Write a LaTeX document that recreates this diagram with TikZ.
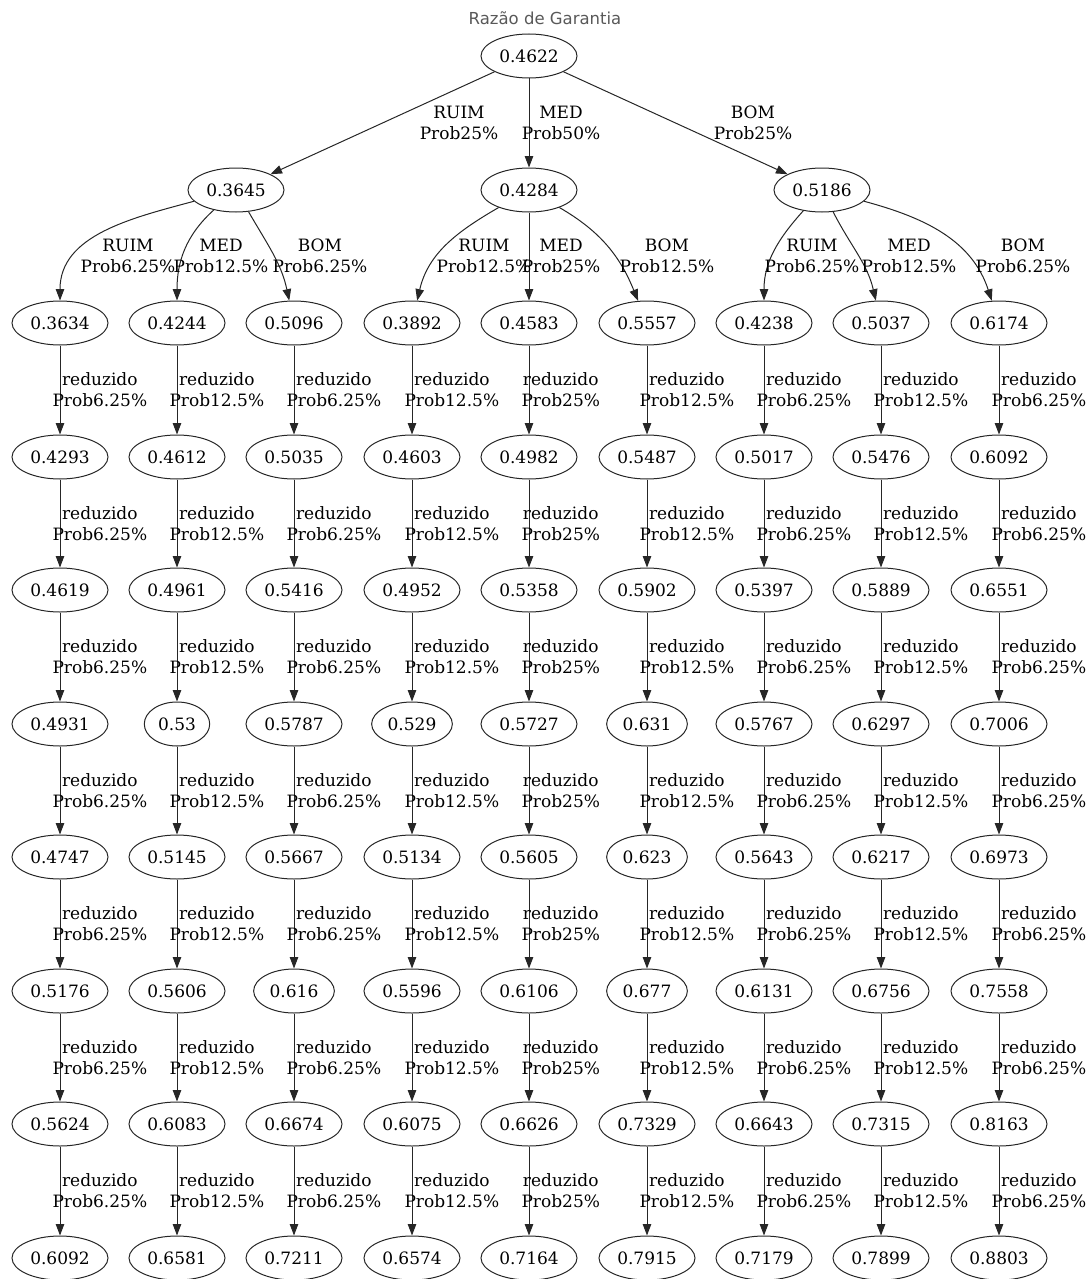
\documentclass[tikz,border=0pt]{standalone}
\usepackage{fontspec}
\setmainfont{DejaVu Serif}
\newfontfamily\titlefont{DejaVu Sans}
\usetikzlibrary{arrows.meta,shapes.geometric}

\begin{document}
\begin{tikzpicture}[x=1pt, y=1pt,
		val/.style={ellipse, draw=black!85, line width=1pt, inner xsep=4.2pt, inner ysep=1pt, minimum height=44pt, font=\fontsize{17}{21}\selectfont},
		link/.style={-{Triangle[length=11.5pt, width=8.5pt]}, draw=black!85, line width=1pt},
		lbl/.style={align=center, inner sep=0pt, font=\fontsize{17}{21}\selectfont},
		chainlbl/.style={lbl, anchor=west, xshift=-8pt}]
		\useasboundingbox (0,0) rectangle (1086,-1279);

		\node[font=\titlefont\fontsize{16.5}{20}\selectfont, text=black!65, anchor=base](title) at (545,-25){Razão de Garantia};

		% root and first split
		\node[val](root) at (529,-56){0.4622};
		\node[val](ruim) at (236,-190){0.3645};
		\node[val](med) at (529,-190){0.4284};
		\node[val](bom) at (822,-190){0.5186};

		% second split
		\node[val](rrOne) at (60,-323){0.3634};
		\node[val](rmOne) at (177,-323){0.4244};
		\node[val](rbOne) at (294,-323){0.5096};
		\node[val](mrOne) at (412,-323){0.3892};
		\node[val](mmOne) at (529,-323){0.4583};
		\node[val](mbOne) at (647,-323){0.5557};
		\node[val](brOne) at (764,-323){0.4238};
		\node[val](bmOne) at (881,-323){0.5037};
		\node[val](bbOne) at (999,-323){0.6174};

		% column ruim-ruim
		\node[val](rrTwo) at (60,-457){0.4293};
		\node[val](rrThree) at (60,-590){0.4619};
		\node[val](rrFour) at (60,-724){0.4931};
		\node[val](rrFive) at (60,-857){0.4747};
		\node[val](rrSix) at (60,-991){0.5176};
		\node[val](rrSeven) at (60,-1124){0.5624};
		\node[val](rrEight) at (60,-1258){0.6092};

		% column ruim-med
		\node[val](rmTwo) at (177,-457){0.4612};
		\node[val](rmThree) at (177,-590){0.4961};
		\node[val](rmFour) at (177,-724){0.53};
		\node[val](rmFive) at (177,-857){0.5145};
		\node[val](rmSix) at (177,-991){0.5606};
		\node[val](rmSeven) at (177,-1124){0.6083};
		\node[val](rmEight) at (177,-1258){0.6581};

		% column ruim-bom
		\node[val](rbTwo) at (294,-457){0.5035};
		\node[val](rbThree) at (294,-590){0.5416};
		\node[val](rbFour) at (294,-724){0.5787};
		\node[val](rbFive) at (294,-857){0.5667};
		\node[val](rbSix) at (294,-991){0.616};
		\node[val](rbSeven) at (294,-1124){0.6674};
		\node[val](rbEight) at (294,-1258){0.7211};

		% column med-ruim
		\node[val](mrTwo) at (412,-457){0.4603};
		\node[val](mrThree) at (412,-590){0.4952};
		\node[val](mrFour) at (412,-724){0.529};
		\node[val](mrFive) at (412,-857){0.5134};
		\node[val](mrSix) at (412,-991){0.5596};
		\node[val](mrSeven) at (412,-1124){0.6075};
		\node[val](mrEight) at (412,-1258){0.6574};

		% column med-med
		\node[val](mmTwo) at (529,-457){0.4982};
		\node[val](mmThree) at (529,-590){0.5358};
		\node[val](mmFour) at (529,-724){0.5727};
		\node[val](mmFive) at (529,-857){0.5605};
		\node[val](mmSix) at (529,-991){0.6106};
		\node[val](mmSeven) at (529,-1124){0.6626};
		\node[val](mmEight) at (529,-1258){0.7164};

		% column med-bom
		\node[val](mbTwo) at (647,-457){0.5487};
		\node[val](mbThree) at (647,-590){0.5902};
		\node[val](mbFour) at (647,-724){0.631};
		\node[val](mbFive) at (647,-857){0.623};
		\node[val](mbSix) at (647,-991){0.677};
		\node[val](mbSeven) at (647,-1124){0.7329};
		\node[val](mbEight) at (647,-1258){0.7915};

		% column bom-ruim
		\node[val](brTwo) at (764,-457){0.5017};
		\node[val](brThree) at (764,-590){0.5397};
		\node[val](brFour) at (764,-724){0.5767};
		\node[val](brFive) at (764,-857){0.5643};
		\node[val](brSix) at (764,-991){0.6131};
		\node[val](brSeven) at (764,-1124){0.6643};
		\node[val](brEight) at (764,-1258){0.7179};

		% column bom-med
		\node[val](bmTwo) at (881,-457){0.5476};
		\node[val](bmThree) at (881,-590){0.5889};
		\node[val](bmFour) at (881,-724){0.6297};
		\node[val](bmFive) at (881,-857){0.6217};
		\node[val](bmSix) at (881,-991){0.6756};
		\node[val](bmSeven) at (881,-1124){0.7315};
		\node[val](bmEight) at (881,-1258){0.7899};

		% column bom-bom
		\node[val](bbTwo) at (999,-457){0.6092};
		\node[val](bbThree) at (999,-590){0.6551};
		\node[val](bbFour) at (999,-724){0.7006};
		\node[val](bbFive) at (999,-857){0.6973};
		\node[val](bbSix) at (999,-991){0.7558};
		\node[val](bbSeven) at (999,-1124){0.8163};
		\node[val](bbEight) at (999,-1258){0.8803};

		% draw first split edges
		\draw[link] (root) -- (ruim);
		\draw[link] (root) -- (med);
		\draw[link] (root) -- (bom);
		\node[lbl](ruimLbl) at (459,-123){RUIM\\Prob25\%};
		\node[lbl](medLbl) at (561,-123){MED\\Prob50\%};
		\node[lbl](bomLbl) at (753,-123){BOM\\Prob25\%};

		% draw second split edges
		\draw[link] (ruim) to[out=195, in=90] (rrOne);
		\draw[link] (ruim) to[out=222, in=90] (rmOne);
		\draw[link] (ruim) to[out=-60, in=102] (rbOne);
		\draw[link] (med) to[out=210, in=77] (mrOne);
		\draw[link] (med) -- (mmOne);
		\draw[link] (med) to[out=-30, in=112] (mbOne);
		\draw[link] (bom) to[out=228, in=90] (brOne);
		\draw[link] (bom) to[out=-63, in=103] (bmOne);
		\draw[link] (bom) to[out=-15, in=108] (bbOne);
		\node[lbl](rrLbl) at (128,-256){RUIM\\Prob6.25\%};
		\node[lbl](rmLbl) at (221,-256){MED\\Prob12.5\%};
		\node[lbl](rbLbl) at (320,-256){BOM\\Prob6.25\%};
		\node[lbl](mrLbl) at (484,-256){RUIM\\Prob12.5\%};
		\node[lbl](mmLbl) at (561,-256){MED\\Prob25\%};
		\node[lbl](mbLbl) at (667,-256){BOM\\Prob12.5\%};
		\node[lbl](brLbl) at (812,-256){RUIM\\Prob6.25\%};
		\node[lbl](bmLbl) at (909,-256){MED\\Prob12.5\%};
		\node[lbl](bbLbl) at (1023,-256){BOM\\Prob6.25\%};

		% draw reduzido edges
		\draw[link] (rrOne) -- node[chainlbl]{reduzido\\Prob6.25\%}(rrTwo);
		\draw[link] (rrTwo) -- node[chainlbl]{reduzido\\Prob6.25\%}(rrThree);
		\draw[link] (rrThree) -- node[chainlbl]{reduzido\\Prob6.25\%}(rrFour);
		\draw[link] (rrFour) -- node[chainlbl]{reduzido\\Prob6.25\%}(rrFive);
		\draw[link] (rrFive) -- node[chainlbl]{reduzido\\Prob6.25\%}(rrSix);
		\draw[link] (rrSix) -- node[chainlbl]{reduzido\\Prob6.25\%}(rrSeven);
		\draw[link] (rrSeven) -- node[chainlbl]{reduzido\\Prob6.25\%}(rrEight);

		\draw[link] (rmOne) -- node[chainlbl]{reduzido\\Prob12.5\%}(rmTwo);
		\draw[link] (rmTwo) -- node[chainlbl]{reduzido\\Prob12.5\%}(rmThree);
		\draw[link] (rmThree) -- node[chainlbl]{reduzido\\Prob12.5\%}(rmFour);
		\draw[link] (rmFour) -- node[chainlbl]{reduzido\\Prob12.5\%}(rmFive);
		\draw[link] (rmFive) -- node[chainlbl]{reduzido\\Prob12.5\%}(rmSix);
		\draw[link] (rmSix) -- node[chainlbl]{reduzido\\Prob12.5\%}(rmSeven);
		\draw[link] (rmSeven) -- node[chainlbl]{reduzido\\Prob12.5\%}(rmEight);

		\draw[link] (rbOne) -- node[chainlbl]{reduzido\\Prob6.25\%}(rbTwo);
		\draw[link] (rbTwo) -- node[chainlbl]{reduzido\\Prob6.25\%}(rbThree);
		\draw[link] (rbThree) -- node[chainlbl]{reduzido\\Prob6.25\%}(rbFour);
		\draw[link] (rbFour) -- node[chainlbl]{reduzido\\Prob6.25\%}(rbFive);
		\draw[link] (rbFive) -- node[chainlbl]{reduzido\\Prob6.25\%}(rbSix);
		\draw[link] (rbSix) -- node[chainlbl]{reduzido\\Prob6.25\%}(rbSeven);
		\draw[link] (rbSeven) -- node[chainlbl]{reduzido\\Prob6.25\%}(rbEight);

		\draw[link] (mrOne) -- node[chainlbl]{reduzido\\Prob12.5\%}(mrTwo);
		\draw[link] (mrTwo) -- node[chainlbl]{reduzido\\Prob12.5\%}(mrThree);
		\draw[link] (mrThree) -- node[chainlbl]{reduzido\\Prob12.5\%}(mrFour);
		\draw[link] (mrFour) -- node[chainlbl]{reduzido\\Prob12.5\%}(mrFive);
		\draw[link] (mrFive) -- node[chainlbl]{reduzido\\Prob12.5\%}(mrSix);
		\draw[link] (mrSix) -- node[chainlbl]{reduzido\\Prob12.5\%}(mrSeven);
		\draw[link] (mrSeven) -- node[chainlbl]{reduzido\\Prob12.5\%}(mrEight);

		\draw[link] (mmOne) -- node[chainlbl]{reduzido\\Prob25\%}(mmTwo);
		\draw[link] (mmTwo) -- node[chainlbl]{reduzido\\Prob25\%}(mmThree);
		\draw[link] (mmThree) -- node[chainlbl]{reduzido\\Prob25\%}(mmFour);
		\draw[link] (mmFour) -- node[chainlbl]{reduzido\\Prob25\%}(mmFive);
		\draw[link] (mmFive) -- node[chainlbl]{reduzido\\Prob25\%}(mmSix);
		\draw[link] (mmSix) -- node[chainlbl]{reduzido\\Prob25\%}(mmSeven);
		\draw[link] (mmSeven) -- node[chainlbl]{reduzido\\Prob25\%}(mmEight);

		\draw[link] (mbOne) -- node[chainlbl]{reduzido\\Prob12.5\%}(mbTwo);
		\draw[link] (mbTwo) -- node[chainlbl]{reduzido\\Prob12.5\%}(mbThree);
		\draw[link] (mbThree) -- node[chainlbl]{reduzido\\Prob12.5\%}(mbFour);
		\draw[link] (mbFour) -- node[chainlbl]{reduzido\\Prob12.5\%}(mbFive);
		\draw[link] (mbFive) -- node[chainlbl]{reduzido\\Prob12.5\%}(mbSix);
		\draw[link] (mbSix) -- node[chainlbl]{reduzido\\Prob12.5\%}(mbSeven);
		\draw[link] (mbSeven) -- node[chainlbl]{reduzido\\Prob12.5\%}(mbEight);

		\draw[link] (brOne) -- node[chainlbl]{reduzido\\Prob6.25\%}(brTwo);
		\draw[link] (brTwo) -- node[chainlbl]{reduzido\\Prob6.25\%}(brThree);
		\draw[link] (brThree) -- node[chainlbl]{reduzido\\Prob6.25\%}(brFour);
		\draw[link] (brFour) -- node[chainlbl]{reduzido\\Prob6.25\%}(brFive);
		\draw[link] (brFive) -- node[chainlbl]{reduzido\\Prob6.25\%}(brSix);
		\draw[link] (brSix) -- node[chainlbl]{reduzido\\Prob6.25\%}(brSeven);
		\draw[link] (brSeven) -- node[chainlbl]{reduzido\\Prob6.25\%}(brEight);

		\draw[link] (bmOne) -- node[chainlbl]{reduzido\\Prob12.5\%}(bmTwo);
		\draw[link] (bmTwo) -- node[chainlbl]{reduzido\\Prob12.5\%}(bmThree);
		\draw[link] (bmThree) -- node[chainlbl]{reduzido\\Prob12.5\%}(bmFour);
		\draw[link] (bmFour) -- node[chainlbl]{reduzido\\Prob12.5\%}(bmFive);
		\draw[link] (bmFive) -- node[chainlbl]{reduzido\\Prob12.5\%}(bmSix);
		\draw[link] (bmSix) -- node[chainlbl]{reduzido\\Prob12.5\%}(bmSeven);
		\draw[link] (bmSeven) -- node[chainlbl]{reduzido\\Prob12.5\%}(bmEight);

		\draw[link] (bbOne) -- node[chainlbl]{reduzido\\Prob6.25\%}(bbTwo);
		\draw[link] (bbTwo) -- node[chainlbl]{reduzido\\Prob6.25\%}(bbThree);
		\draw[link] (bbThree) -- node[chainlbl]{reduzido\\Prob6.25\%}(bbFour);
		\draw[link] (bbFour) -- node[chainlbl]{reduzido\\Prob6.25\%}(bbFive);
		\draw[link] (bbFive) -- node[chainlbl]{reduzido\\Prob6.25\%}(bbSix);
		\draw[link] (bbSix) -- node[chainlbl]{reduzido\\Prob6.25\%}(bbSeven);
		\draw[link] (bbSeven) -- node[chainlbl]{reduzido\\Prob6.25\%}(bbEight);
	\end{tikzpicture}
\end{document}
